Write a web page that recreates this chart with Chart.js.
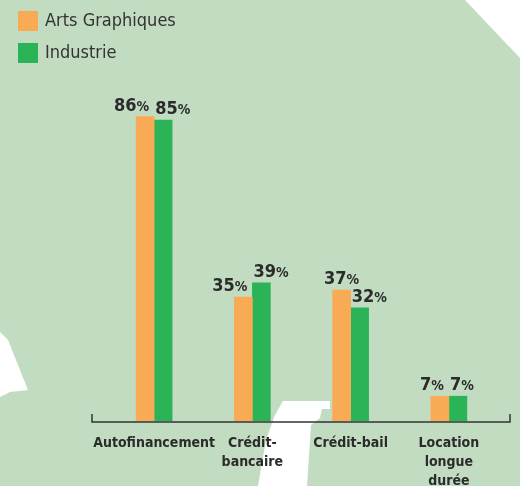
<!DOCTYPE html>
<html>
<head>
<meta charset="utf-8">
<script src="https://cdn.jsdelivr.net/npm/chart.js@4.4.1/dist/chart.umd.min.js"></script>
<style>
    body { margin: 0; background: #c2dcc2; }
    #wrap { position: relative; width: 520px; height: 486px; overflow: hidden; }
    #bg { position: absolute; left: 0; top: 0; }
    #chart { position: absolute; left: 0; top: 0; }
    .legend { position: absolute; left: 18px; font-family: "DejaVu Sans", sans-serif; font-stretch: condensed; font-size: 18px; color: #333; }
    .legend span { display: inline-block; width: 20px; height: 20px; vertical-align: middle; margin-right: 7px; }
    .legend div { height: 32px; line-height: 20px; }
</style>
</head>
<body>
<div id="wrap">
    <svg id="bg" width="520" height="486">
        <polygon fill="#fff" points="465,0 520,0 520,58" />
        <polygon fill="#fff" points="0,332 8,340 28,390 10,392 0,397" />
        <polygon fill="#fff" points="283,401 330,401 330,409 322,409 320,418 311,425 307,486 258,486 266,440 275,415" />
    </svg>
    <div style="position:absolute;width:520px;height:486px;">
        <canvas id="chart"></canvas>
    </div>
    <div class="legend" id="legend" style="top:10px;"></div>
</div>
<script>
/**
 * Financement des investissements - Arts Graphiques vs Industrie.
 */

const categories = ["Autofinancement", ["Crédit-", "bancaire"], "Crédit-bail", ["Location", "longue", "durée"]];
const seriesNames = ["Arts Graphiques", "Industrie"];
const artsGraphiques = [86, 35, 37, 7];
const industrie = [85, 39, 32, 7];
const seriesColors = ["#f9aa55", "#2bb457"];

const FONT = '"DejaVu Sans", sans-serif';
const TEXT = "#2b2b2b";

// Legend as html (stacked vertically, top-left)
const legendEl = document.getElementById("legend");
seriesNames.forEach((name, i) => {
    const row = document.createElement("div");
    row.innerHTML = `<span style="background:${seriesColors[i]}"></span>${name}`;
    legendEl.appendChild(row);
});

// Bracket-shaped baseline under the bars
const baselinePlugin = {
    id: "baseline",
    afterDraw(chart) {
        const { ctx, chartArea } = chart;
        const y = chartArea.bottom + 1;
        const x0 = chartArea.left - 13;
        const x1 = chartArea.right + 12;
        ctx.save();
        ctx.strokeStyle = "#333";
        ctx.lineWidth = 1.5;
        ctx.beginPath();
        ctx.moveTo(x0, y - 8);
        ctx.lineTo(x0, y);
        ctx.lineTo(x1, y);
        ctx.lineTo(x1, y - 8);
        ctx.stroke();
        ctx.restore();
    },
};

// "86%" style labels: big number, smaller percent sign
const valueLabelPlugin = {
    id: "valueLabels",
    afterDatasetsDraw(chart) {
        const { ctx } = chart;
        const a = chart.getDatasetMeta(0).data;
        const b = chart.getDatasetMeta(1).data;
        const numFont = "bold condensed 18px " + FONT;
        const pctFont = "bold condensed 14px " + FONT;
        ctx.save();
        ctx.fillStyle = TEXT;
        ctx.textBaseline = "alphabetic";
        a.forEach((barA, i) => {
            const barB = b[i];
            [0, 1].forEach((d) => {
                const bar = d === 0 ? barA : barB;
                const val = chart.data.datasets[d].data[i];
                ctx.font = numFont;
                const numW = ctx.measureText(String(val)).width;
                ctx.font = pctFont;
                const pctW = ctx.measureText("%").width;
                const w = numW + pctW;
                let left;
                if (d === 0) {
                    // centre when the neighbour label is well below
                    left = barA.y < barB.y - 15 ? bar.x - w / 2 : bar.x + 4 - w;
                } else {
                    left = bar.x - 8;
                }
                const y = bar.y - 6;
                ctx.font = numFont;
                ctx.fillText(String(val), left, y);
                ctx.font = pctFont;
                ctx.fillText("%", left + numW, y);
            });
        });
        ctx.restore();
    },
};

new Chart(document.getElementById("chart"), {
    type: "bar",
    data: {
        labels: categories,
        datasets: [
            {
                label: seriesNames[0],
                data: artsGraphiques,
                backgroundColor: seriesColors[0],
                barThickness: 18,
            },
            {
                label: seriesNames[1],
                data: industrie,
                backgroundColor: seriesColors[1],
                barThickness: 18,
            },
        ],
    },
    options: {
        responsive: true,
        maintainAspectRatio: false,
        animation: false,
        categoryPercentage: 0.41,
        layout: {
            padding: { left: 105, right: 22, top: 67, bottom: 0 },
        },
        plugins: {
            legend: { display: false },
            tooltip: { enabled: false },
        },
        scales: {
            x: {
                grid: { display: false, drawTicks: false },
                border: { display: false },
                ticks: {
                    color: TEXT,
                    padding: 13,
                    maxRotation: 0,
                    autoSkip: false,
                    // weight string carries the stretch keyword too
                    font: { family: FONT, size: 14, weight: "bold condensed", lineHeight: 1.36 },
                },
                afterFit: (scale) => {
                    scale.height = 65;
                },
            },
            y: {
                display: false,
                min: 0,
                max: 100,
            },
        },
    },
    plugins: [baselinePlugin, valueLabelPlugin],
});
</script>
</body>
</html>
